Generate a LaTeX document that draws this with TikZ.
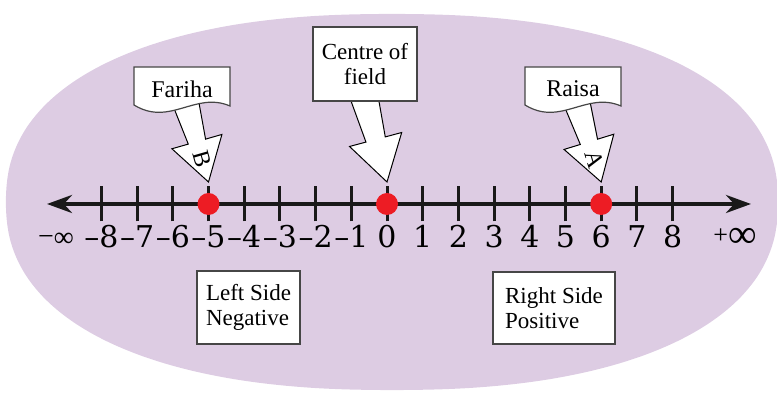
\documentclass[tikz,border=0pt]{standalone}
\usepackage{fontspec}
\setmainfont{Liberation Serif}
\newfontfamily\numfont{DejaVu Serif}
\usetikzlibrary{arrows.meta}
\definecolor{fieldpurple}{RGB}{221,204,227}
\definecolor{dotred}{RGB}{237,28,36}
\definecolor{boxgrey}{RGB}{70,70,70}

\tikzset{
  numline/.style={line width=2pt, black!90, {Stealth[length=12.5pt,width=9pt]}-{Stealth[length=12.5pt,width=9pt]}},
  tickmark/.style={line width=1.5pt, black!90},
  numlabel/.style={font=\numfont\fontsize{15}{15}\selectfont, anchor=base, inner sep=0pt},
  reddot/.style={circle, fill=dotred, minimum size=11pt, inner sep=0pt},
  pointer/.style={draw=black, fill=white, line width=0.5pt, line join=miter},
  banner/.style={draw=boxgrey, fill=white, line width=0.6pt},
  textbox/.style={draw=boxgrey, fill=white, line width=0.6pt, font=\rmfamily\fontsize{11.5}{12.5}\selectfont, inner sep=0pt},
  letter/.style={font=\rmfamily\fontsize{12}{12}\selectfont, inner sep=0pt}
}

\begin{document}
\begin{tikzpicture}[x=0.5pt, y=0.5pt]
    \useasboundingbox (0,0) rectangle (777,395);

    % the field
    \fill[fieldpurple] plot[domain=1:359, samples=180, smooth cycle]
        ({392+386*sign(cos(\x))*abs(cos(\x))^0.87}, {193+188*sign(sin(\x))*abs(sin(\x))^0.87});

    % number line
    \coordinate (minf) at (47,191);
    \coordinate (pinf) at (751,191);
    \draw[numline] (minf) -- (pinf);

    \foreach \k/\t in {-8/–8,-7/–7,-6/–6,-5/–5,-4/–4,-3/–3,-2/–2,-1/–1,0/0,1/1,2/2,3/3,4/4,5/5,6/6,7/7,8/8} {
        \coordinate (t\k) at (387+35.7*\k,191);
        \draw[tickmark] ([yshift=-8.75pt]t\k) -- ([yshift=8.75pt]t\k);
        \node[numlabel] (num\k) at (387+35.7*\k,147) {\t};
    }
    \node[numlabel, font=\rmfamily\fontsize{14}{14}\selectfont] (neginf) at (56,149) {−\raisebox{-0.5pt}{∞}};
    \node[numlabel, font=\rmfamily] (posinf) at (735,147)
        {{\fontsize{13}{13}\selectfont\raisebox{2pt}{+}}{\fontsize{20}{20}\selectfont ∞}};

    % positions
    \node[reddot] (dotB) at (t-5) {};
    \node[reddot] (dotO) at (t0) {};
    \node[reddot] (dotA) at (t6) {};

    % pointers
    \begin{scope}[shift={(208.5,213)}, rotate=106]
        \draw[pointer] (0,0) -- (42,26) -- (42,9) -- (82,13) -- (82,-13) -- (42,-9) -- (42,-26) -- cycle;
        \node[letter, transform shape, rotate=180] (letterB) at (24,0) {B};
    \end{scope}
    \begin{scope}[shift={(387,213)}, rotate=105]
        \draw[pointer] (0,0) -- (44,27) -- (44,10) -- (90,14) -- (90,-14) -- (44,-10) -- (44,-27) -- cycle;
    \end{scope}
    \begin{scope}[shift={(601.2,213)}, rotate=107]
        \draw[pointer] (0,0) -- (42,26) -- (42,9) -- (82,13) -- (82,-13) -- (42,-9) -- (42,-26) -- cycle;
        \node[letter, transform shape, rotate=180] (letterA) at (24,0) {A};
    \end{scope}

    % name banners
    \draw[banner] (134,328) -- (230,328) -- (230,289) .. controls (195,304) and (170,268) .. (134,290) -- cycle;
    \node[font=\rmfamily\fontsize{12}{13}\selectfont] (fariha) at (182,306) {Fariha};
    \draw[banner] (525,328) -- (621,328) -- (621,289) .. controls (586,304) and (561,268) .. (525,290) -- cycle;
    \node[font=\rmfamily\fontsize{12}{13}\selectfont] (raisa) at (573,306) {Raisa};

    % text boxes
    \node[textbox, minimum width=52pt, minimum height=37pt, align=center] (centre) at (365,331) {Centre of\\field};
    \node[textbox, minimum width=51.5pt, minimum height=36.5pt, align=left] (leftside) at (248.5,87.5) {Left Side\\Negative};
    \node[textbox, minimum width=61pt, minimum height=36pt, align=left] (rightside) at (554,87) {Right Side\\Positive};
\end{tikzpicture}
\end{document}
